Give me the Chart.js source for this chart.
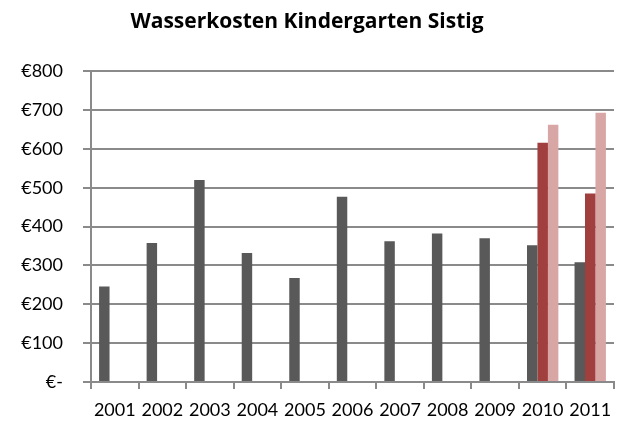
<!DOCTYPE html>
<html lang="de">
<head>
<meta charset="utf-8">
<title>Wasserkosten Kindergarten Sistig</title>
<script src="https://cdn.jsdelivr.net/npm/chart.js@4/dist/chart.umd.min.js"></script>
<style>
  html, body { margin: 0; padding: 0; background: #fff; }
  #wrap { width: 622px; height: 423px; }
</style>
</head>
<body>
<div id="wrap"><canvas id="cost-chart" width="622" height="423"></canvas></div>
<script>
const YEARS = ['2001', '2002', '2003', '2004', '2005', '2006', '2007', '2008', '2009', '2010', '2011'];
const COSTS_A = [246, 358, 520, 332, 268, 477, 362, 382, 370, 352, 308];
const COSTS_B = [null, null, null, null, null, null, null, null, null, 616, 485];
const COSTS_C = [null, null, null, null, null, null, null, null, null, 662, 693];
const Y_MAX = 800;
const Y_STEP = 100;

const GRID = '#8a8a8a';
const FONT = 'Lato, "Open Sans", sans-serif';

function euro(value) {
  return value === 0 ? '€-' : '€' + value;
}

const chart = new Chart(document.getElementById('cost-chart'), {
  type: 'bar',
  data: {
    labels: YEARS,
    datasets: [
      { label: 'A', data: COSTS_A, backgroundColor: '#595959' },
      { label: 'B', data: COSTS_B, backgroundColor: '#a03f3e' },
      { label: 'C', data: COSTS_C, backgroundColor: '#d9a6a6' },
    ],
  },
  options: {
    responsive: false,
    animation: false,
    layout: { padding: { left: 0, right: 8, top: 0, bottom: 0 } },
    datasets: {
      bar: { categoryPercentage: 0.66, barPercentage: 1, skipNull: false },
    },
    plugins: {
      legend: { display: false },
      tooltip: { enabled: false },
      title: {
        display: true,
        text: 'Wasserkosten Kindergarten Sistig',
        color: '#000',
        font: { family: '"Open Sans", sans-serif', size: 21, weight: 'bold', lineHeight: 1.2 },
        padding: { top: 9, bottom: 37 },
      },
    },
    scales: {
      x: {
        grid: { drawOnChartArea: false, drawTicks: true, tickLength: 7, color: GRID, lineWidth: 2 },
        border: { display: true, color: GRID, width: 2 },
        ticks: { color: '#000', padding: 10, font: { family: FONT, size: 18 }, maxRotation: 0 },
        afterFit(scale) { scale.height = 41; },
      },
      y: {
        min: 0,
        max: Y_MAX,
        grid: { color: GRID, lineWidth: 2, tickLength: 8 },
        border: { display: true, color: GRID, width: 2 },
        ticks: { stepSize: Y_STEP, color: '#000', padding: 20, font: { family: FONT, size: 18 }, callback: euro },
        afterFit(scale) { scale.width = 91; },
      },
    },
  },
});
</script>
</body>
</html>
